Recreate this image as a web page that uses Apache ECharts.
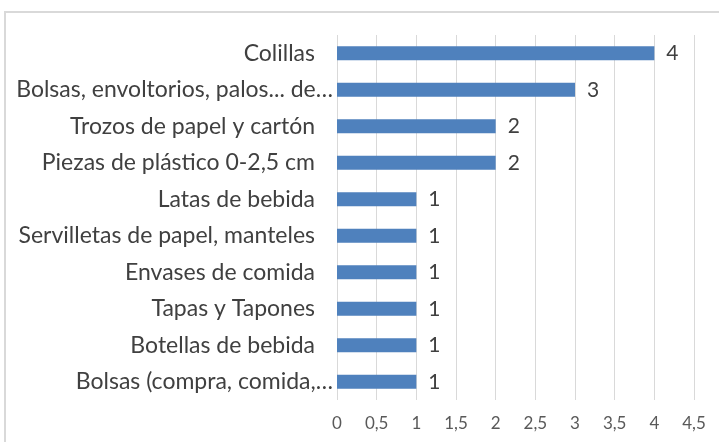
<!DOCTYPE html>
<html><head><meta charset="utf-8">
<script src="https://cdn.jsdelivr.net/npm/echarts@6/dist/echarts.min.js"></script>
<style>html,body{margin:0;padding:0;background:#fff}#c{width:719px;height:442px}</style>
</head><body><div id="c"></div>
<script>
const categories = ["Bolsas (compra, comida,…","Botellas de bebida","Tapas y Tapones","Envases de comida","Servilletas de papel, manteles","Latas de bebida","Piezas de plástico 0-2,5 cm","Trozos de papel y cartón","Bolsas, envoltorios, palos... de…","Colillas"];
const values = [1,1,1,1,1,1,2,2,3,4];
const xTicks = {min:0,max:4.5,interval:0.5};

const font = "Lato, 'Open Sans', sans-serif";
const fs = 23;
const chart = echarts.init(document.getElementById('c'), null, {renderer:'canvas'});
chart.setOption({
  animation:false,
  graphic:[{type:'rect',shape:{x:5,y:12,width:720,height:440},style:{fill:'none',stroke:'#d9d9d9',lineWidth:2}}],
  grid:{left:337,right:25,top:35,bottom:42},
  xAxis:{type:'value',min:xTicks.min,max:xTicks.max,interval:xTicks.interval,
    axisLine:{show:false},axisTick:{show:false},
    splitLine:{show:true,lineStyle:{color:'#d9d9d9',width:1}},
    axisLabel:{color:'#595959',fontSize:17,fontFamily:font,margin:15,
      formatter:v=>String(v).replace('.',',')}},
  yAxis:{type:'category',data:categories,
    axisLine:{show:false},axisTick:{show:false},
    axisLabel:{margin:4,fontFamily:font,fontSize:fs,color:'#404040',
      formatter:v=> v.endsWith('…') ? '{a|'+v+'}' : '{b|'+v+'}',
      rich:{a:{fontFamily:font,fontSize:fs,color:'#404040'},b:{fontFamily:font,fontSize:fs,color:'#404040',padding:[0,18,0,0]}}}},
  series:[{type:'bar',data:values,barWidth:14,
    itemStyle:{color:'#4f81bd'},
    label:{show:true,position:'right',distance:12,fontFamily:font,fontSize:21,color:'#404040'}}]
});
</script></body></html>
